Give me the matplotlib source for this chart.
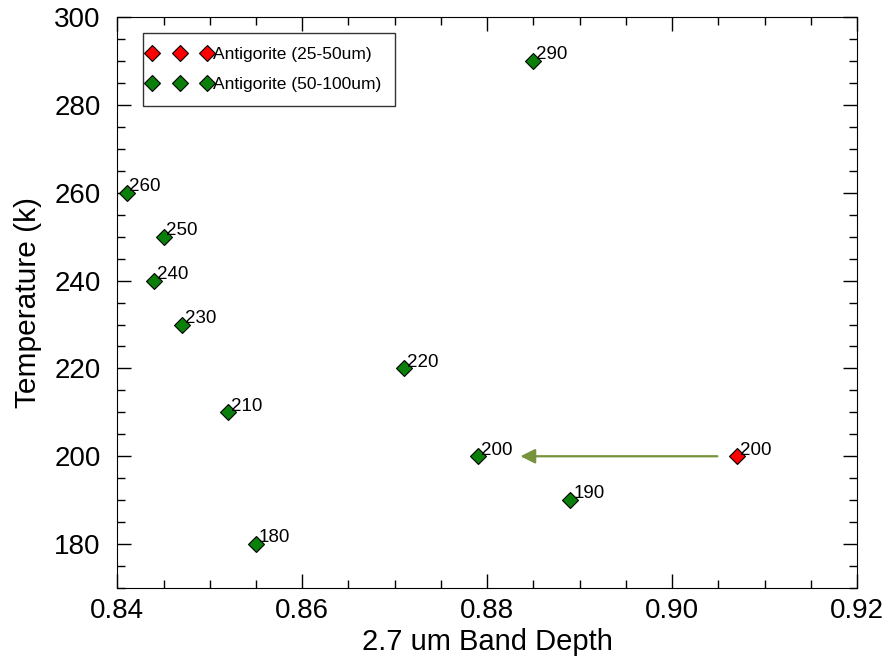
import matplotlib
matplotlib.use("Agg")
import matplotlib.pyplot as plt
from matplotlib.ticker import MultipleLocator
from matplotlib.legend_handler import HandlerLine2D

plt.rcParams['font.family'] = ['Liberation Sans', 'DejaVu Sans']

# Antigorite grain size 50-100 um
green_depth = [0.841, 0.845, 0.844, 0.847, 0.852, 0.855, 0.871, 0.879, 0.885, 0.889]
green_temp = [260, 250, 240, 230, 210, 180, 220, 200, 290, 190]

# Antigorite grain size 25-50 um
red_depth = [0.907]
red_temp = [200]

# arrow between the two 200 K points
arrow_start = (0.9049, 200)
arrow_end = (0.8836, 200)

fig, ax = plt.subplots(figsize=(8.89, 6.57), dpi=100)
fig.subplots_adjust(left=0.132, right=0.964, top=0.974, bottom=0.105)

red_line, = ax.plot(red_depth, red_temp, linestyle='none', marker='D', ms=8.6,
                    mfc='#ff0000', mec='black', mew=0.8, label='Antigorite (25-50um)')
green_line, = ax.plot(green_depth, green_temp, linestyle='none', marker='D', ms=8.6,
                      mfc='#0a800a', mec='black', mew=0.8, label='Antigorite (50-100um)')

for x, y in zip(green_depth + red_depth, green_temp + red_temp):
    ax.annotate(str(y), (x, y), xytext=(2, 4.5), textcoords='offset points',
                ha='left', va='center', fontsize=13.5)

ax.annotate('', xy=arrow_end, xytext=arrow_start,
            arrowprops=dict(arrowstyle='-|>', color='#77933c', lw=1.6,
                            mutation_scale=22, shrinkA=0, shrinkB=0))

ax.set_xlim(0.84, 0.92)
ax.set_ylim(170, 300)
ax.xaxis.set_major_locator(MultipleLocator(0.02))
ax.xaxis.set_minor_locator(MultipleLocator(0.005))
ax.yaxis.set_major_locator(MultipleLocator(20))
ax.yaxis.set_minor_locator(MultipleLocator(5))
ax.xaxis.set_major_formatter(plt.FormatStrFormatter('%.2f'))
ax.tick_params(which='both', direction='in', top=True, right=True, labelsize=20)
ax.tick_params(which='major', length=10, width=1)
ax.tick_params(which='minor', length=5.5, width=1)
ax.tick_params(axis='x', pad=7)
ax.tick_params(axis='y', pad=12)

ax.set_xlabel('2.7 um Band Depth', fontsize=21, labelpad=3)
ax.set_ylabel('Temperature (k)', fontsize=21.5, labelpad=9)

handler = HandlerLine2D(numpoints=3, marker_pad=-0.26)
leg = ax.legend(handler_map={red_line: handler, green_line: handler},
                loc='upper left', fontsize=12.5, frameon=True,
                fancybox=False, edgecolor='black', handlelength=2.65,
                handletextpad=0.6, borderpad=0.78, labelspacing=0.89,
                bbox_to_anchor=(0.0351, 0.972), borderaxespad=0)
leg.get_frame().set_linewidth(1.0)

fig.savefig('out.png', dpi=100)
